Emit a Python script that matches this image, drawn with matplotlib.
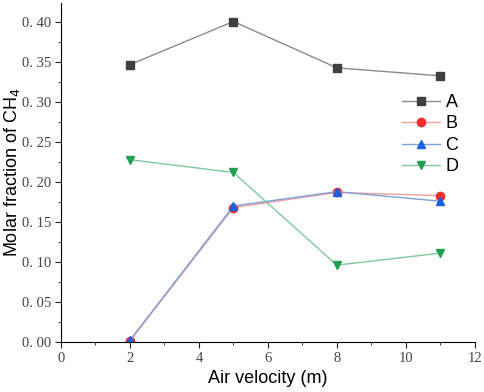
import matplotlib
matplotlib.use("Agg")
import matplotlib.pyplot as plt
from matplotlib.ticker import MultipleLocator, FuncFormatter

x = [2, 5, 8, 11]
series_names = ["A", "B", "C", "D"]
A = [0.347, 0.401, 0.343, 0.333]
B = [0.001, 0.168, 0.187, 0.183]
C = [0.002, 0.170, 0.188, 0.176]
D = [0.228, 0.212, 0.096, 0.111]

fig = plt.figure(figsize=(4.84, 3.92), dpi=100)
ax = fig.add_axes([0.126, 0.128, 0.855, 0.864])

styles = [
    (A, "s", "#3f3f3f", "#8a8a8a"),
    (B, "o", "#f03030", "#f4a0a0"),
    (C, "^", "#1a5fe0", "#7f9fd8"),
    (D, "v", "#20a050", "#80c8a0"),
]
for name, (vals, m, mc, lc) in zip(series_names, styles):
    ax.plot(x, vals, color=lc, lw=1.0, marker=m, markersize=6,
            markerfacecolor=mc, markeredgecolor=mc, label=name)

ax.set_xlim(0, 12)
ax.set_ylim(0, 0.424)
ax.xaxis.set_major_locator(MultipleLocator(2))
ax.xaxis.set_minor_locator(MultipleLocator(1))
ax.yaxis.set_major_locator(MultipleLocator(0.05))
ax.yaxis.set_minor_locator(MultipleLocator(0.025))
ax.yaxis.set_major_formatter(FuncFormatter(lambda v, p: f"{v:.2f}".replace(".", ". ")))
for s in ["top", "right"]:
    ax.spines[s].set_visible(False)
ax.tick_params(which="both", direction="out", colors="#222222")
ax.tick_params(which="major", length=4, pad=3)
ax.tick_params(which="minor", length=2.5)
for lab in ax.get_xticklabels() + ax.get_yticklabels():
    lab.set_fontfamily("Liberation Serif")
    lab.set_fontsize(10.5)
    lab.set_color("#444444")

ax.set_xlabel("Air velocity (m)", fontsize=13, family="Liberation Sans")
ax.set_ylabel("Molar fraction of CH$_4$", fontsize=13, family="Liberation Sans")
ax.yaxis.set_label_coords(-0.095, 0.5)

ax.legend(loc="upper right", bbox_to_anchor=(1.0, 0.78), frameon=False,
          prop={"family": "Liberation Sans", "size": 13},
          handlelength=2.1, handletextpad=0.3, labelspacing=0.25)

fig.savefig("out.png", dpi=100)
